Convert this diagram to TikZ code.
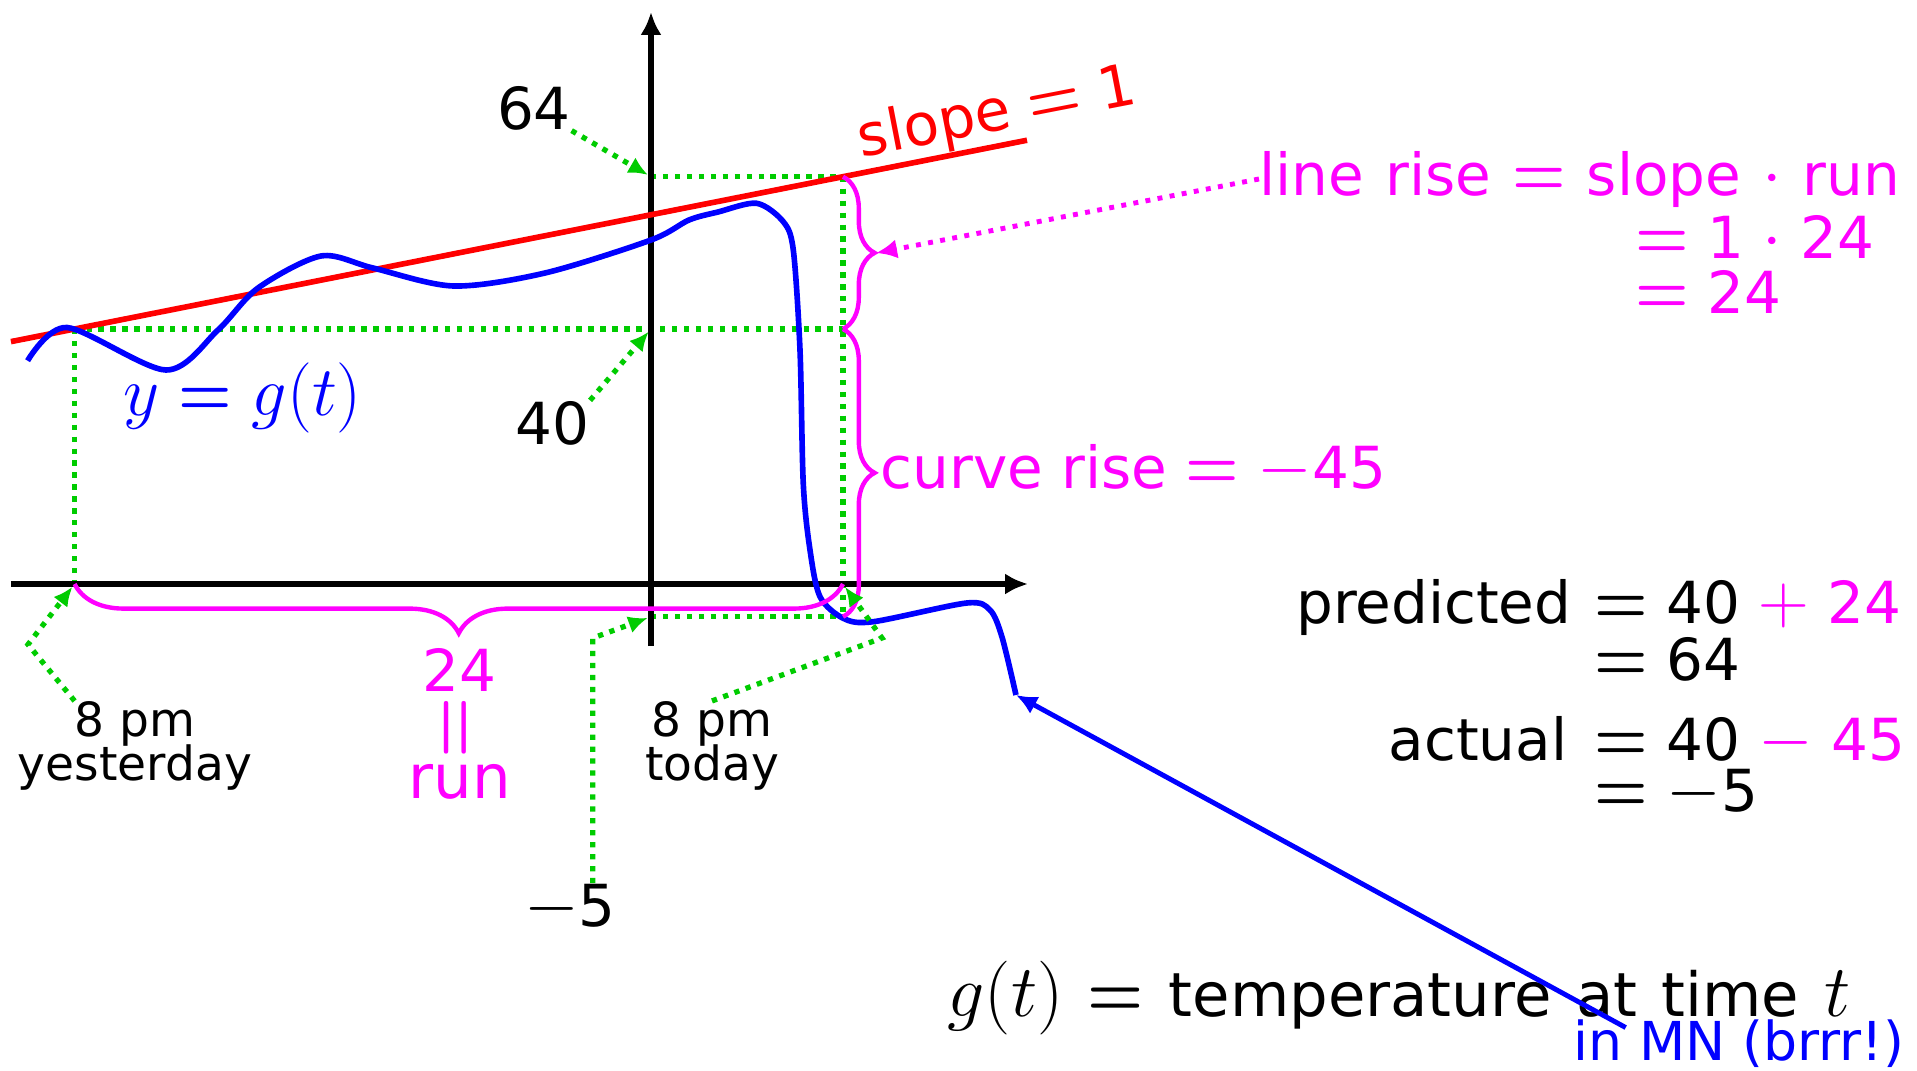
\RequirePackage{fix-cm}
\documentclass[tikz,border=0pt]{standalone}
\usepackage{amsmath}
\usepackage{bm}
\usepackage{graphicx}
\usepackage{fontspec}
\setmainfont{DejaVu Sans}[Scale=0.825]
\usetikzlibrary{arrows.meta, positioning, calc, decorations.pathreplacing}
\definecolor{mygreen}{RGB}{0,204,0}
\definecolor{mymagenta}{RGB}{255,0,255}
\definecolor{myblue}{RGB}{0,0,255}
\definecolor{myred}{RGB}{255,0,0}
\newcommand{\eqs}{\mathrel{\scalebox{0.87}[1]{$\boldsymbol{=}$}}}
\tikzset{
  axis/.style={line width=1.45pt, -{Latex[length=6.5pt, width=6pt]}},
  guide/.style={draw=mygreen, line width=1.5pt, dash pattern=on 1.5pt off 1.9pt},
  guidearrow/.style={guide, -{Latex[length=5.5pt, width=5pt]}, shorten >=1pt},
  risebrace/.style={draw=mymagenta, line width=1.25pt, decorate,
    decoration={brace, amplitude=9pt}},
  runbrace/.style={risebrace, decoration={brace, amplitude=14pt}},
  risearrow/.style={draw=mymagenta, line width=1.4pt, dash pattern=on 1.4pt off 2.1pt,
    -{Latex[length=6pt, width=5.5pt]}},
  curvearrow/.style={draw=myblue, line width=1.4pt, -{Latex[length=6pt, width=5.5pt]}},
  lbl/.style={inner sep=0pt, font=\fontsize{20}{22}\selectfont},
  timelbl/.style={inner sep=0pt, align=center,
    font={\fontsize{16.25}{12.5}\selectfont\lineskiplimit=-8pt}},
}

\begin{document}
\begin{tikzpicture}
  \useasboundingbox (-6.51,-4.86) rectangle (12.66,5.84);
  % ── Reference points ───────────────────────────────────────────────────────
  \coordinate (yest40) at (-5.764,2.55);
  \coordinate (yest0) at (-5.764,0);
  \coordinate (today64) at (1.92,4.073);
  \coordinate (today40) at (1.92,2.55);
  \coordinate (today0) at (1.92,0);
  \coordinate (todaym5) at (1.92,-0.327);
  \coordinate (p64) at (0,4.073);
  \coordinate (p40) at (0,2.55);
  \coordinate (pm5) at (0,-0.327);

  % ── Green guide lines ──────────────────────────────────────────────────────
  \draw[guide] (p64) -- (today64);
  \draw[guide] (yest40) -- (today40);
  \draw[guide] (yest40) -- (yest0);
  \draw[guide] (today64) -- (todaym5);
  \draw[guide] (pm5) -- (todaym5);

  % ── Axes ───────────────────────────────────────────────────────────────────
  \draw[axis] (-6.40,0) -- (3.77,0);
  \draw[axis] (0,-0.62) -- (0,5.72);

  % ── Secant line ────────────────────────────────────────────────────────────
  \coordinate (redL) at ($(yest40)!-0.0828!(today64)$);
  \coordinate (redR) at ($(today64)!-0.2395!(yest40)$);
  \draw[myred, line width=1.6pt] (redL) -- (redR);
  \node[lbl, text=myred, rotate=11] (slopelbl) at (3.46,4.69) {slope $\eqs$ 1};

  % ── Temperature curve ──────────────────────────────────────────────────────
  \draw[myblue, line width=1.6pt] plot[smooth, tension=0.5] coordinates {
    (-6.234,2.233) (-5.84,2.565) (-4.85,2.14) (-4.33,2.54) (-3.93,2.96)
    (-3.30,3.28) (-2.78,3.16) (-1.975,2.98) (-1.06,3.11) (0,3.44)
    (0.38,3.64) (0.67,3.72) (1.057,3.807) (1.323,3.623) (1.423,3.34)
    (1.49,2.34) (1.523,1.0) (1.59,0.34) (1.69,-0.127) (1.923,-0.343)
    (2.223,-0.377) (3.157,-0.19) (3.39,-0.26) (3.51,-0.53) (3.65,-1.11)};
  \coordinate (gend) at (3.65,-1.11);
  \node[lbl, text=myblue] (gname) at (-4.085,1.86) {$y\eqs g(t)$};

  % ── Braces ─────────────────────────────────────────────────────────────────
  \draw[risebrace] (today64) -- (today40);
  \draw[risebrace] (today40) -- (todaym5);
  \draw[runbrace] (today0) -- (yest0);
  \coordinate (linetip) at (2.25,3.31);
  \coordinate (curvetip) at (2.25,1.11);

  % ── Axis labels ────────────────────────────────────────────────────────────
  \node[lbl] (l64) at (-1.17,4.76) {64};
  \node[lbl] (l40) at (-0.985,1.61) {40};
  \node[lbl] (lm5) at (-0.81,-3.24) {$-$5};
  \node[timelbl] (yest) at (-5.16,-1.62) {8 pm\\yesterday};
  \node[timelbl] (today) at (0.61,-1.62) {8 pm\\today};
  \coordinate (m5kink) at (-0.582,-0.54);
  \coordinate (yestkink) at (-6.23,-0.605);
  \coordinate (todaykink) at (2.31,-0.54);
  \draw[guidearrow] (l64.south east) -- (p64);
  \draw[guidearrow] (l40.north east) -- (p40);
  \draw[guidearrow] (m5kink |- lm5.north) -- (m5kink) -- (pm5);
  \draw[guidearrow] (yest0 |- yest.north) -- (yestkink) -- (yest0);
  \draw[guidearrow] (today.north) -- (todaykink) -- (today0);

  % ── Run label ──────────────────────────────────────────────────────────────
  \node[lbl, text=mymagenta, anchor=base] (run24) at (-1.915,-1.077) {24};
  \node[lbl, text=mymagenta, rotate=90, font=\fontsize{23}{24}\selectfont] (runeq)
    at (-1.915,-1.435) {$\eqs$};
  \node[lbl, text=mymagenta, anchor=base, font=\fontsize{21}{22}\selectfont] (runword)
    at (-1.915,-2.14) {run};

  % ── Rise labels ────────────────────────────────────────────────────────────
  \node[lbl, text=mymagenta, anchor=base west,
    font={\fontsize{20}{22}\selectfont\spaceskip=6pt}] (linerise) at (6.08,3.89)
    {line rise $\eqs$ slope $\cdot$ run};
  \node[lbl, text=mymagenta, anchor=base west] (lineval) at (9.84,3.26) {$\eqs$ 1 $\cdot$ 24};
  \node[lbl, text=mymagenta, anchor=base west] (linesum) at (9.84,2.71) {$\eqs$ 24};
  \draw[risearrow] (linerise.west) -- (linetip);
  \node[lbl, text=mymagenta, anchor=base west] (curverise) at (2.29,0.96)
    {curve rise $\eqs$ $-$45};

  % ── Predicted vs actual ────────────────────────────────────────────────────
  \node[lbl, anchor=base east] (pred) at (9.21,-0.393) {predicted};
  \node[lbl, anchor=base west] (predval) at (9.43,-0.393)
    {$\eqs$ 40 {\color{mymagenta}$+$ 24}};
  \node[lbl, anchor=base west] (predsum) at (9.43,-0.96) {$\eqs$ 64};
  \node[lbl, anchor=base east] (act) at (9.17,-1.76) {actual};
  \node[lbl, anchor=base west] (actval) at (9.43,-1.76)
    {$\eqs$ 40 {\color{mymagenta}$-$ 45}};
  \node[lbl, anchor=base west] (actsum) at (9.43,-2.277) {$\eqs$ $-$5};

  % ── Definition of g ────────────────────────────────────────────────────────
  \node[inner sep=0pt, anchor=base west,
    font={\fontsize{21}{22}\selectfont\spaceskip=7pt}] (gdef)
    at (2.96,-4.327) {$g(t)$ $\eqs$ temperature at time $t$};
  \node[inner sep=0pt, anchor=base east, text=myblue, font=\fontsize{18.5}{19}\selectfont]
    (mn) at (12.54,-4.76) {in MN (brrr!)};
  \coordinate (mnstart) at ($(mn.north west)!0.16!(mn.north east)+(0,-0.09)$);
  \draw[curvearrow] (mnstart) -- (gend);
\end{tikzpicture}
\end{document}
